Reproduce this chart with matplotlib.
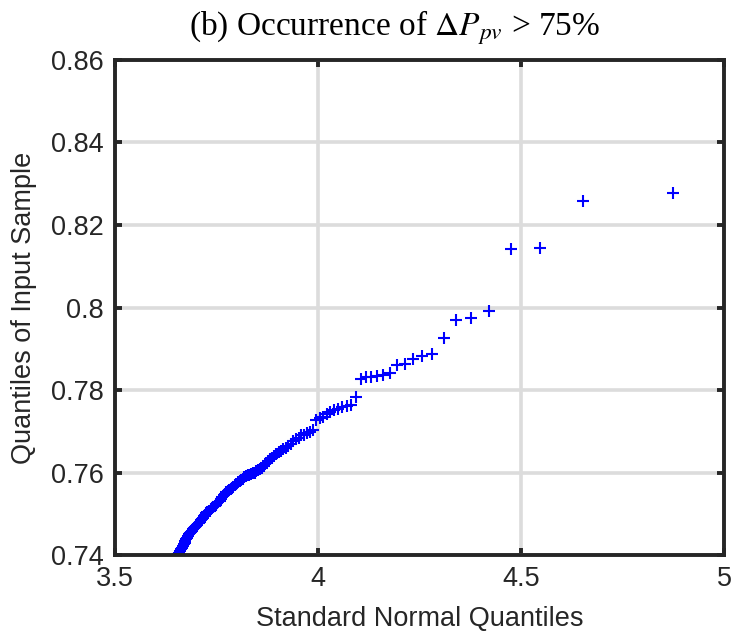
import math
import numpy as np
import matplotlib
matplotlib.use("Agg")
import matplotlib.pyplot as plt

# ---------------- data (sorted sample values, largest first) -------------
n_total = 915000  # total sample size implied by the spacing of the theoretical quantiles
sample_top = [0.8277, 0.8257, 0.8145, 0.8142, 0.7992, 0.7974, 0.7970, 0.7927, 0.7887, 0.7883,
              0.7875, 0.7862, 0.7861, 0.7842, 0.7836, 0.7834, 0.7832, 0.7831, 0.7826, 0.7784,
              0.7764, 0.7761, 0.7758, 0.7755, 0.7751, 0.7747, 0.7741, 0.7735, 0.7731, 0.7727,
              0.7703, 0.7699, 0.7695, 0.7692, 0.7690, 0.7684, 0.7681, 0.7677, 0.7670, 0.7664,
              0.7660, 0.7656, 0.7652, 0.7649, 0.7644, 0.7640, 0.7636, 0.7632, 0.7627, 0.7622,
              0.7615, 0.7610, 0.7608, 0.7606, 0.7603, 0.7600, 0.7598, 0.7597, 0.7595, 0.7593,
              0.7591, 0.7588, 0.7585, 0.7582, 0.7579, 0.7576, 0.7572, 0.7570, 0.7566, 0.7563,
              0.7561, 0.7557, 0.7555, 0.7552, 0.7548, 0.7545, 0.7541, 0.7537, 0.7532, 0.7529,
              0.7525, 0.7522, 0.7520, 0.7517, 0.7514, 0.7511, 0.7508, 0.7506, 0.7504, 0.7501,
              0.7497, 0.7494, 0.7491, 0.7488, 0.7484, 0.7481, 0.7477, 0.7474, 0.7470, 0.7468,
              0.7465, 0.7462, 0.7459, 0.7457, 0.7454, 0.7450, 0.7447, 0.7442, 0.7438, 0.7435,
              0.7430, 0.7427, 0.7423, 0.7418, 0.7415, 0.7411, 0.7406, 0.7403, 0.7400, 0.7395]

x_ticks = [3.5, 4, 4.5, 5]
x_ticklabels = ["3.5", "4", "4.5", "5"]
y_ticks = [0.74, 0.76, 0.78, 0.80, 0.82, 0.84, 0.86]
y_ticklabels = ["0.74", "0.76", "0.78", "0.8", "0.82", "0.84", "0.86"]
title_text = r"(b) Occurrence of $\Delta P_{pv}$ > 75%"
xlabel_text = "Standard Normal Quantiles"
ylabel_text = "Quantiles of Input Sample"


# theoretical standard-normal quantiles for the plotted order statistics (as qqplot does)
def norm_upper_ppf(p):
    lo, hi = 0.0, 10.0
    for _ in range(80):
        mid = 0.5 * (lo + hi)
        if 0.5 * math.erfc(mid / math.sqrt(2)) > p:
            lo = mid
        else:
            hi = mid
    return 0.5 * (lo + hi)


ranks = np.arange(1, len(sample_top) + 1)
theo_q = np.array([norm_upper_ppf((r - 0.5) / n_total) for r in ranks])
sample = np.array(sample_top)

# ---------------- figure ----------------
plt.rcParams['font.family'] = ['Liberation Sans', 'DejaVu Sans']
plt.rcParams['mathtext.fontset'] = 'stix'

fig = plt.figure(figsize=(7.33, 6.38), dpi=100)
ax = fig.add_axes([0.157, 0.130, 0.831, 0.776])

dark = '#262626'
ax.plot(theo_q, sample, linestyle='none', marker='+', markersize=9,
        markeredgewidth=1.5, color='#0000ff', clip_on=True, zorder=3)

ax.set_xlim(3.5, 5)
ax.set_ylim(0.74, 0.86)
ax.set_xticks(x_ticks)
ax.set_xticklabels(x_ticklabels)
ax.set_yticks(y_ticks)
ax.set_yticklabels(y_ticklabels)

ax.grid(True, color='#dcdcdc', linewidth=2.6)
ax.set_axisbelow(True)
for s in ax.spines.values():
    s.set_color(dark)
    s.set_linewidth(2.8)
    s.set_zorder(4)
ax.tick_params(direction='in', length=5, width=2.8, color=dark, labelcolor=dark,
               labelsize=19.5, top=True, right=True, pad=8)

ax.set_xlabel(xlabel_text, fontsize=19.5, color=dark, labelpad=10)
ax.set_ylabel(ylabel_text, fontsize=19.5, color=dark, labelpad=10)

fig.text(395 / 733, 1 - 28 / 638, title_text, ha='center', va='center',
         fontsize=24, family=['Liberation Serif', 'DejaVu Serif'], color='black')

fig.savefig('out.png', dpi=100)
